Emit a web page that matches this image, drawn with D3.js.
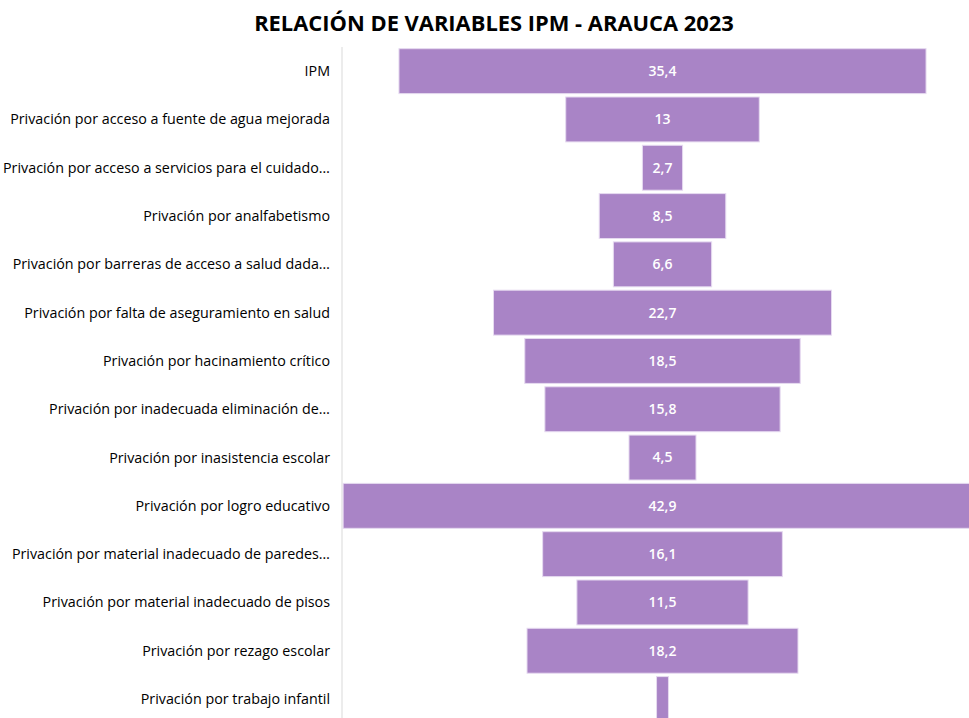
<!DOCTYPE html>
<html>
<head>
<meta charset="utf-8">
<script src="https://cdn.jsdelivr.net/npm/d3@7"></script>
<style>
  body { margin: 0; background: #fff; }
  svg { display: block; font-family: "Open Sans", "Noto Sans", sans-serif; }
</style>
</head>
<body>
<div id="chart"></div>
<script>
// dane wykresu
var categories = [
  "IPM",
  "Privación por acceso a fuente de agua mejorada",
  "Privación por acceso a servicios para el cuidado…",
  "Privación por analfabetismo",
  "Privación por barreras de acceso a salud dada…",
  "Privación por falta de aseguramiento en salud",
  "Privación por hacinamiento crítico",
  "Privación por inadecuada eliminación de…",
  "Privación por inasistencia escolar",
  "Privación por logro educativo",
  "Privación por material inadecuado de paredes…",
  "Privación por material inadecuado de pisos",
  "Privación por rezago escolar",
  "Privación por trabajo infantil"
]
var values = [35.4, 13, 2.7, 8.5, 6.6, 22.7, 18.5, 15.8, 4.5, 42.9, 16.1, 11.5, 18.2, 0.8]
var valueLabels = ["35,4", "13", "2,7", "8,5", "6,6", "22,7", "18,5", "15,8", "4,5", "42,9", "16,1", "11,5", "18,2", ""]
var title = "RELACIÓN DE VARIABLES IPM - ARAUCA 2023"

var width = 969
var height = 718
var cx = 662.5   // środek lejka
var axisX = 342

var svg = d3.select("#chart")
  .append("svg")
    .attr("width", width)
    .attr("height", height)

var y = d3.scaleBand()
  .domain(categories)
  .range([47, 723.2])
  .paddingInner(0.07)
  .paddingOuter(0.035)

var x = d3.scaleLinear()
  .domain([0, 45])
  .range([0, 670])

var rows = categories.map(function(c, i) { return {cat: c, v: values[i], lab: valueLabels[i]} })

// pionowa linia osi
svg.append("line")
  .attr("x1", axisX).attr("x2", axisX)
  .attr("y1", 47).attr("y2", height)
  .attr("stroke", "#d9d9d9")
  .attr("stroke-width", 1)

// słupki lejka
svg.selectAll("rect.bar")
  .data(rows)
  .enter()
  .append("rect")
    .attr("class", "bar")
    .attr("x", function(d) { return cx - x(d.v) / 2 })
    .attr("y", function(d) { return y(d.cat) })
    .attr("width", function(d) { return x(d.v) })
    .attr("height", y.bandwidth())
    .attr("fill", "#a984c6")
    .attr("stroke", "#e6daf0")
    .attr("stroke-width", 1)

// etykiety wartości
svg.selectAll("text.val")
  .data(rows)
  .enter()
  .append("text")
    .attr("class", "val")
    .attr("x", cx)
    .attr("y", function(d) { return y(d.cat) + y.bandwidth() / 2 })
    .attr("dy", "0.35em")
    .attr("text-anchor", "middle")
    .attr("fill", "#fff")
    .style("font-size", "14px")
    .style("font-weight", "600")
    .text(function(d) { return d.lab })

// etykiety kategorii
svg.selectAll("text.cat")
  .data(rows)
  .enter()
  .append("text")
    .attr("class", "cat")
    .attr("x", 330)
    .attr("y", function(d) { return y(d.cat) + y.bandwidth() / 2 })
    .attr("dy", "0.35em")
    .attr("text-anchor", "end")
    .attr("fill", "#000")
    .style("font-size", "14.3px")
    .text(function(d) { return d.cat })

// tytuł
svg.append("text")
  .attr("x", 494)
  .attr("y", 31)
  .attr("text-anchor", "middle")
  .attr("fill", "#000")
  .style("font-size", "21.9px")
  .style("font-weight", "700")
  .text(title)
</script>
</body>
</html>
